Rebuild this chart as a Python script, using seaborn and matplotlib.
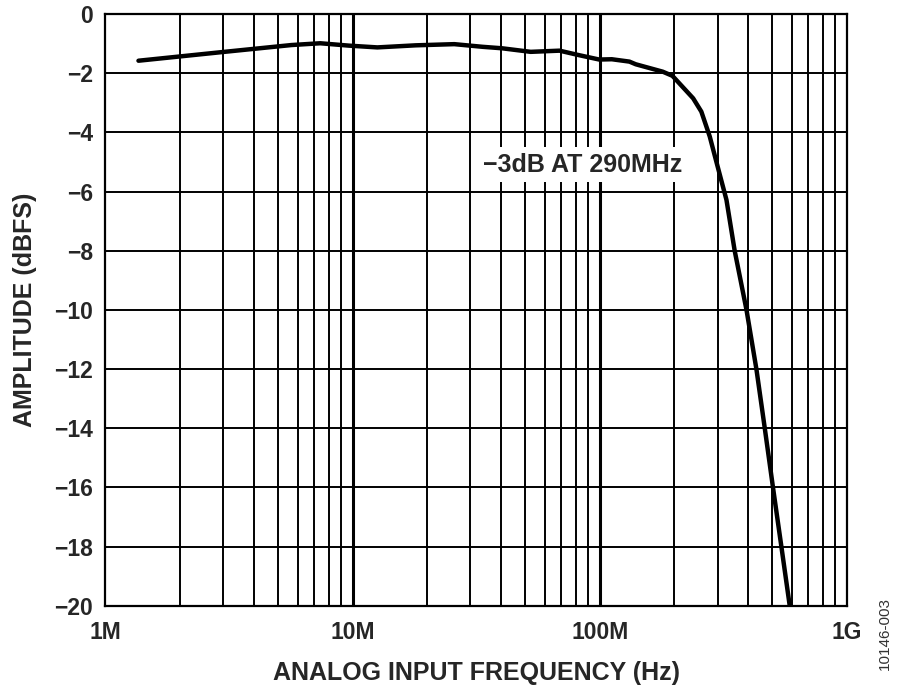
import matplotlib
matplotlib.use("Agg")
import matplotlib.pyplot as plt
import matplotlib.ticker as mticker
import numpy as np
import pandas as pd
import seaborn as sns

# frequency response
freq_mhz = [1.36, 3.03, 5.66, 7.4, 9.66, 12.6, 18.0, 25.8, 33.6, 40.3, 52.6,
            68.8, 82.3, 99.6, 112, 132, 140, 180, 197, 239, 258, 279, 298,
            326, 352, 393, 431, 466, 503, 544, 588]
amp_dbfs = [-1.58, -1.28, -1.05, -0.99, -1.07, -1.13, -1.06, -1.02, -1.11,
            -1.16, -1.28, -1.24, -1.39, -1.54, -1.53, -1.61, -1.70, -1.95,
            -2.09, -2.85, -3.30, -4.14, -5.05, -6.28, -8.0, -10.0, -12.0,
            -14.0, -16.0, -18.0, -20.0]

x_ticks = [1e6, 1e7, 1e8, 1e9]
x_ticklabels = ["1M", "10M", "100M", "1G"]
y_ticks = list(range(-20, 1, 2))

df = pd.DataFrame({"freq": np.array(freq_mhz) * 1e6, "amp": amp_dbfs})

sns.set_theme(style="white")
plt.rcParams["font.family"] = ["Liberation Sans", "DejaVu Sans"]
plt.rcParams["axes.unicode_minus"] = True

fig = plt.figure(figsize=(9, 6.98), dpi=100)
ax = fig.add_axes([0.1172, 0.132, 0.8236, 0.848])

ax.set_xscale("log")
ax.set_xlim(1e6, 1e9)
ax.set_ylim(-20, 0)

# grid: thick decades, thinner minors, thin horizontals
for dec in [1e6, 1e7, 1e8]:
    for m in range(2, 10):
        ax.axvline(dec * m, color="black", lw=1.4, zorder=1)
for dec in x_ticks[1:-1]:
    ax.axvline(dec, color="black", lw=2.2, zorder=1)
for yv in y_ticks[1:-1]:
    ax.axhline(yv, color="black", lw=1.4, zorder=1)

sns.lineplot(data=df, x="freq", y="amp", ax=ax, color="black", lw=3.2,
             zorder=3, sort=False)

ax.set_xticks(x_ticks)
ax.set_xticklabels(x_ticklabels)
ax.xaxis.set_minor_locator(mticker.NullLocator())
ax.set_yticks(y_ticks)
ax.set_yticklabels([str(v).replace("-", "\u2212") for v in y_ticks])
ax.tick_params(axis="both", length=0, labelsize=16.5)
ax.tick_params(axis="x", pad=11)
ax.tick_params(axis="y", pad=9)
for lbl in ax.get_xticklabels() + ax.get_yticklabels():
    lbl.set_fontweight("bold")

for sp in ax.spines.values():
    sp.set_color("black")
    sp.set_linewidth(1.6)
    sp.set_zorder(4)

ax.set_xlabel("ANALOG INPUT FREQUENCY (Hz)", fontsize=18, fontweight="bold", labelpad=12)
ax.set_ylabel("AMPLITUDE (dBFS)", fontsize=18, fontweight="bold", labelpad=12)

ax.text(8.55e7, -5.1, "\u22123dB AT 290MHz", fontsize=18, fontweight="bold",
        ha="center", va="center", zorder=5,
        bbox=dict(facecolor="white", edgecolor="none", pad=4))

fig.text(885 / 900, 1 - 633 / 698, "10146-003", rotation=90, fontsize=11,
         color="#333333", ha="center", va="center")

fig.savefig("out.png", dpi=100)
